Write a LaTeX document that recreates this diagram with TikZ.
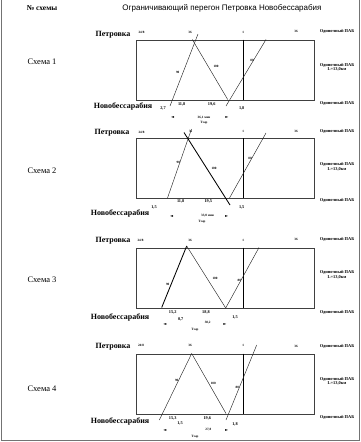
\documentclass[tikz,border=0pt]{standalone}
\usepackage{fontspec}
\setmainfont{Liberation Serif}
\newfontfamily\hsans{Liberation Sans}
\newfontfamily\symf{DejaVu Sans}
\begin{document}
\begin{tikzpicture}[x=1pt,y=-1pt,
  frame/.style={draw=black!55,line width=0.8pt},
  boxst/.style={draw=black!75,line width=0.6pt,minimum width=178pt,minimum height=60pt,anchor=north west,inner sep=0pt},
  trk/.style={line width=1.3pt},
  run/.style={draw=black!85,line width=0.45pt},
  runb/.style={draw=black,line width=0.85pt},
  st/.style={font=\fontsize{8}{8}\selectfont\bfseries,inner sep=0pt},
  sch/.style={font=\fontsize{8.5}{8.5}\selectfont,inner sep=0pt},
  tn/.style={font=\fontsize{4.3}{4.3}\selectfont\bfseries,inner sep=0pt},
  tx/.style={font=\fontsize{3.3}{3.3}\selectfont\bfseries,inner sep=0pt},
  pab/.style={font=\fontsize{4.4}{4.4}\selectfont\bfseries,inner sep=0pt},
  arr/.style={font=\symf\fontsize{4}{4}\selectfont,inner sep=0pt}]
\useasboundingbox (0,0) rectangle (361,442);
% frame
\coordinate (f1) at (1,0);
\coordinate (f2) at (1,440.5);
\coordinate (f3) at (359.3,440.5);
\coordinate (f4) at (359.3,0);
\draw[frame] (f1) -- (f2) -- (f3) -- (f4);
% header
\node[font=\fontsize{7.5}{7.5}\selectfont\bfseries,inner sep=0pt] (h1) at (42,8) {№ схемы};
\node[font=\hsans\fontsize{8}{8}\selectfont,inner sep=0pt] (h2) at (222,8) {Ограничивающий перегон Петровка Новобессарабия};

% ================= Scheme 1 =================
\node[sch] (s1) at (42,62) {Схема 1};
\node[st] (p1) at (113,34.3) {Петровка};
\node[st] (n1) at (123,106) {Новобессарабия};
\node[boxst] (b1) at (136,39.5) {};
\coordinate (k1a) at (243.3,39.5);
\coordinate (k1b) at (243.3,99.5);
\draw[trk] (k1a) -- (k1b);
\node[tx] (t1a) at (141.5,32) {24/8};
\node[tx] (t1b) at (190,32) {36};
\node[tx] (t1c) at (243.3,32) {1};
\node[tx] (t1d) at (296,31.5) {36};
\node[pab] (r1a) at (337,31.5) {Одиночный ПАБ};
\node[pab] (r1b) at (337,65) {Одиночный ПАБ};
\node[pab] (r1c) at (337,69.5) {L=13,0км};
\node[pab] (r1d) at (337,103.7) {Одиночный ПАБ};
\coordinate (a1s) at (170,106);
\coordinate (a1e) at (198,34);
\coordinate (b1s) at (192.3,39.5);
\coordinate (b1e) at (227.7,99.5);
\coordinate (c1s) at (226,106);
\coordinate (c1e) at (266,39.5);
\draw[run] (a1s) -- (a1e);
\draw[run] (b1s) -- (b1e);
\draw[run] (c1s) -- (c1e);
\node[tx] (v1a) at (177.7,72) {90};
\node[tx] (v1b) at (216,66) {100};
\node[tx] (v1c) at (252,60.7) {80};
\node[tn] (d1a) at (163,108) {2,7};
\node[tn] (d1b) at (181.7,104) {11,8};
\node[tn] (d1c) at (211.7,104) {19,6};
\node[tn] (d1d) at (241.7,108) {1,8};
\node[arr] (l1) at (172.7,117.3) {◄};
\node[tx] (m1) at (204,117.3) {36,1 мин};
\node[arr] (q1) at (227,117.3) {►};
\node[tx] (z1) at (204,123) {Тзар};

% ================= Scheme 2 =================
\node[sch] (s2) at (42,171) {Схема 2};
\node[st] (p2) at (112,132.7) {Петровка};
\node[st] (n2) at (120,213.3) {Новобессарабия};
\node[boxst] (b2) at (136,138) {};
\coordinate (k2a) at (243.3,138);
\coordinate (k2b) at (243.3,198);
\draw[trk] (k2a) -- (k2b);
\node[tx] (t2a) at (141.5,132) {24/8};
\node[tx] (t2b) at (190.7,131.5) {36};
\node[tx] (t2c) at (243.3,131.5) {1};
\node[tx] (t2d) at (296,131) {36};
\node[pab] (r2a) at (337,131) {Одиночный ПАБ};
\node[pab] (r2b) at (337,164.5) {Одиночный ПАБ};
\node[pab] (r2c) at (337,169) {L=13,0км};
\node[pab] (r2d) at (337,200.7) {Одиночный ПАБ};
\coordinate (a2s) at (167.5,198);
\coordinate (a2e) at (191.5,129);
\coordinate (b2s) at (184,132.5);
\coordinate (b2e) at (230,205);
\coordinate (c2s) at (229.5,198);
\coordinate (c2e) at (266,133);
\draw[run] (a2s) -- (a2e);
\draw[runb] (b2s) -- (b2e);
\draw[run] (c2s) -- (c2e);
\node[tx] (v2a) at (178.3,162.3) {90};
\node[tx] (v2b) at (214,168) {100};
\node[tx] (v2c) at (250,158.7) {80};
\node[tn] (d2a) at (154,207) {1,5};
\node[tn] (d2b) at (180.7,201.3) {11,8};
\node[tn] (d2c) at (208.3,201.3) {19,5};
\node[tn] (d2d) at (241.7,207) {1,5};
\node[arr] (l2) at (171.7,216.3) {◄};
\node[tx] (m2) at (207.5,216) {33,0 мин};
\node[arr] (q2) at (226.7,216.3) {►};
\node[tx] (z2) at (202,221.7) {Тзар};

% ================= Scheme 3 =================
\node[sch] (s3) at (42,280) {Схема 3};
\node[st] (p3) at (113,240.5) {Петровка};
\node[st] (n3) at (120,317.7) {Новобессарабия};
\node[boxst] (b3) at (136,247.5) {};
\coordinate (k3a) at (243.3,247.5);
\coordinate (k3b) at (243.3,307.5);
\draw[trk] (k3a) -- (k3b);
\node[tx] (t3a) at (140.5,240.7) {24/8};
\node[tx] (t3b) at (190,240.7) {36};
\node[tx] (t3c) at (243.3,240.2) {1};
\node[tx] (t3d) at (296,239.5) {36};
\node[pab] (r3a) at (337,239.5) {Одиночный ПАБ};
\node[pab] (r3b) at (337,272.7) {Одиночный ПАБ};
\node[pab] (r3c) at (337,277) {L=13,0км};
\node[pab] (r3d) at (337,312) {Одиночный ПАБ};
\coordinate (a3s) at (161.7,307.5);
\coordinate (a3e) at (186.7,246);
\coordinate (b3e) at (225.7,308);
\coordinate (c3e) at (259,247.5);
\draw[runb] (a3s) -- (a3e);
\draw[run] (a3e) -- (b3e);
\draw[run] (b3e) -- (c3e);
\node[tx] (v3a) at (167.7,284.3) {90};
\node[tx] (v3b) at (215,278.3) {100};
\node[tx] (v3c) at (239.3,280.7) {80};
\node[tn] (d3a) at (172.7,312.7) {15,2};
\node[tn] (d3b) at (180.7,319) {0,7};
\node[tn] (d3c) at (206,312.7) {18,8};
\node[tn] (d3d) at (235,317.7) {1,5};
\node[arr] (l3) at (165,324.3) {◄};
\node[tx] (m3) at (207.7,322.7) {38,2};
\node[arr] (q3) at (225,324.3) {►};
\node[tx] (z3) at (195,330) {Тзар};

% ================= Scheme 4 =================
\node[sch] (s4) at (42,389) {Схема 4};
\node[st] (p4) at (113,346.7) {Петровка};
\node[st] (n4) at (120,421.7) {Новобессарабия};
\node[boxst] (b4) at (136,353.5) {};
\coordinate (k4a) at (243.3,353.5);
\coordinate (k4b) at (243.3,413.5);
\draw[trk] (k4a) -- (k4b);
\node[tx] (t4a) at (141,345) {24/8};
\node[tx] (t4b) at (190,345.7) {36};
\node[tx] (t4c) at (243.3,345) {1};
\node[tx] (t4d) at (296,346) {36};
\node[pab] (r4a) at (337,346) {Одиночный ПАБ};
\node[pab] (r4b) at (337,379.3) {Одиночный ПАБ};
\node[pab] (r4c) at (337,383.7) {L=13,0км};
\node[pab] (r4d) at (337,417.3) {Одиночный ПАБ};
\coordinate (a4s) at (159.3,420);
\coordinate (a4e) at (191.7,353.5);
\coordinate (b4e) at (226,413.5);
\coordinate (c4s) at (226,420);
\coordinate (c4e) at (256.7,345);
\draw[run] (a4s) -- (a4e);
\draw[run] (a4e) -- (b4e);
\draw[run] (c4s) -- (c4e);
\node[tx] (v4a) at (176.7,380) {90};
\node[tx] (v4b) at (213.3,383.3) {100};
\node[tx] (v4c) at (237.3,387.3) {80};
\node[tn] (d4a) at (172.7,418.3) {15,3};
\node[tn] (d4b) at (180,423.3) {1,5};
\node[tn] (d4c) at (207.3,418.3) {19,6};
\node[tn] (d4d) at (235,424) {1,8};
\node[arr] (l4) at (165,430.7) {◄};
\node[tx] (m4) at (208.3,429.3) {27,8};
\node[arr] (q4) at (226.7,430.7) {►};
\node[tx] (z4) at (195,436.7) {Тзар};
\end{tikzpicture}
\end{document}
